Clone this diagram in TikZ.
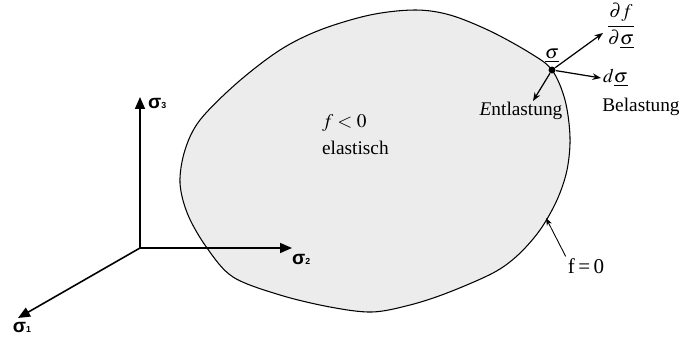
\documentclass[tikz,border=0pt]{standalone}
\usepackage{mathptmx}
\usepackage{fontspec}
\setmainfont{Liberation Serif}
\newfontfamily\axisfont{Liberation Sans}
\usetikzlibrary{arrows.meta,positioning}

\begin{document}
\begin{tikzpicture}[
  x=0.02cm,y=-0.02cm,
  surf/.style={fill=gray!15,draw=black,line width=0.6pt},
  axis/.style={-{Triangle[length=2.4mm,width=2mm]},line width=0.9pt},
  vec/.style={-{Stealth[length=1.7mm,width=1.3mm]},line width=0.7pt},
  pin/.style={-{Stealth[length=1.5mm,width=1.1mm]},line width=0.5pt},
  lbl/.style={font=\fontsize{11}{13}\selectfont,inner sep=1pt},
  axlbl/.style={font=\axisfont\bfseries\fontsize{11}{12}\selectfont,inner sep=1pt}
]
\useasboundingbox (0,0) rectangle (680,337);
% yield surface f = 0
\draw[surf] plot[smooth cycle,tension=0.55] coordinates {
  (552,70) (565,100) (570,137) (567,170) (557,200) (540,230) (518,255)
  (493,273) (447,293) (410,305) (372,312) (330,307) (280,295) (233,277)
  (207,248) (188,215) (180,183) (185,150) (200,120) (237,83) (280,50)
  (320,30) (370,15) (415,10) (450,15) (490,31) (530,53)};
% principal stress axes
\coordinate (o) at (140,248);
\coordinate (s1) at (18,318);
\coordinate (s2) at (292,248);
\coordinate (s3) at (140,97);
\draw[axis] (o) -- (s1);
\draw[axis] (o) -- (s2);
\draw[axis] (o) -- (s3);
\node[axlbl,anchor=north] (l1) at (22,320) {σ{\tiny 1}};
\node[axlbl,anchor=north west] (l2) at (290,252) {σ{\tiny 2}};
\node[axlbl,anchor=west] (l3) at (146,103) {σ{\tiny 3}};
% stress point on the surface
\node[circle,fill,inner sep=1.4pt] (sig) at (552,70) {};
\node[lbl,above=1pt of sig] (sigl) {$\underline{\sigma}$};
\coordinate (grad) at (603,33);
\coordinate (dsig) at (601,78);
\coordinate (unl) at (533,101);
\draw[vec] (sig) -- (grad);
\draw[vec] (sig) -- (dsig);
\draw[vec] (sig) -- (unl);
\node[lbl] (gradl) at (621,26) {$\displaystyle\frac{\partial f}{\partial\underline{\sigma}}$};
\node[lbl,right=0pt of dsig] (dsigl) {$d\underline{\sigma}$};
\node[lbl] (bel) at (641,107) {Belastung};
\node[lbl] (ent) at (521,111) {\textit{E}ntlastung};
% labels of the regions
\node[lbl,anchor=west] (fneg) at (320,123) {$f<0$};
\node[lbl,anchor=west] (el) at (320,148) {elastisch};
\coordinate (fs) at (546,218);
\node[lbl,font=\fontsize{12}{13}\selectfont] (f0) at (586,266) {f\,=\,0};
\draw[pin] (f0.north west) -- (fs);
\end{tikzpicture}
\end{document}
